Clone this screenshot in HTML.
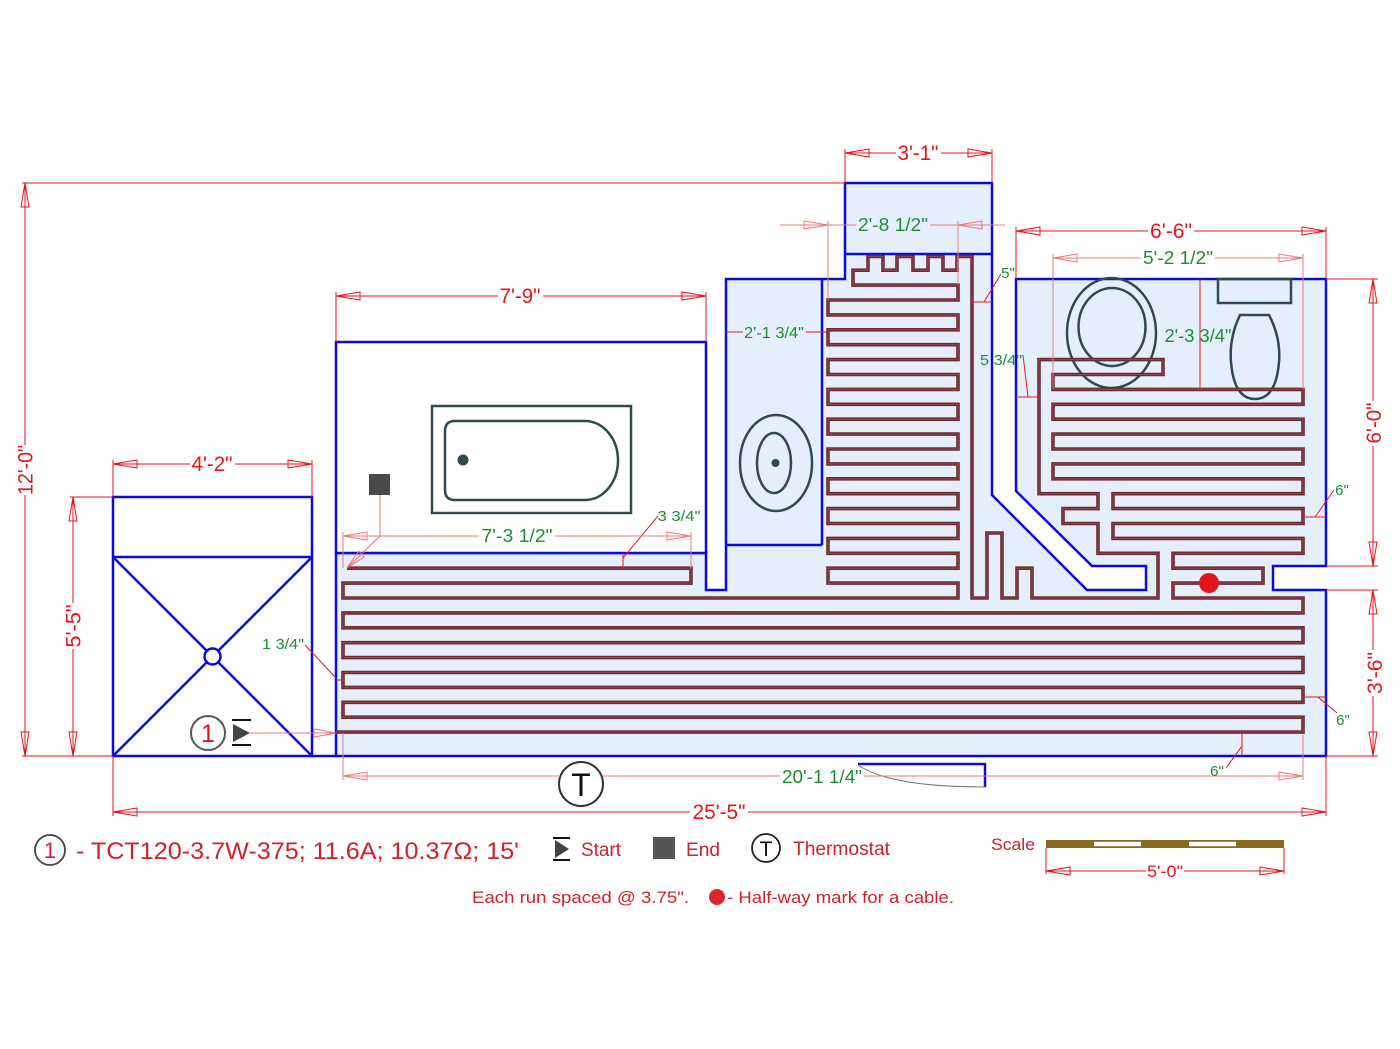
<!DOCTYPE html>
<html><head><meta charset="utf-8"><style>
html,body{margin:0;padding:0;background:#fff;}
svg{display:block;}
text{font-family:"Liberation Sans",Arial,sans-serif;}
</style></head><body>
<svg width="1400" height="1049" viewBox="0 0 1400 1049" xmlns="http://www.w3.org/2000/svg">
<rect width="1400" height="1049" fill="#fff"/>

<!-- heated floor area -->
<polygon points="336,553 706,553 706,590 726,590 726,279 845,279 845,183 992,183 992,495 1087,590 1146,590 1146,566 1092,566 1016,491 1016,279 1326,279 1326,566 1273,566 1273,590 1326,590 1326,756 336,756" fill="#e5effb" stroke="#0a0ae6" stroke-width="2.5" stroke-linejoin="miter"/>
<!-- bath room -->
<rect x="336" y="342" width="370" height="211" fill="#fff" stroke="#0a0ae6" stroke-width="2.5"/>
<!-- shower -->
<rect x="113" y="497" width="199" height="259" fill="#fff" stroke="#0a0ae6" stroke-width="2.5"/>
<g stroke="#0a0ae6" stroke-width="2.5" fill="none">
<line x1="113" y1="557" x2="312" y2="557"/>
<line x1="113" y1="557" x2="312" y2="756"/>
<line x1="312" y1="557" x2="113" y2="756"/>
<line x1="312" y1="756" x2="336" y2="756"/>
<line x1="822" y1="279" x2="822" y2="545"/>
<line x1="726" y1="545" x2="822" y2="545"/>
<line x1="845" y1="254" x2="992" y2="254"/>
<polyline points="858,764 985,764 985,787"/>
</g>
<circle cx="212.5" cy="656.5" r="8" fill="#fff" stroke="#0a0ae6" stroke-width="2.5"/>
<path d="M858,765 Q890,787 985,787" fill="none" stroke="#777" stroke-width="1"/>

<!-- fixtures -->
<g fill="none" stroke="#2e4a4c" stroke-width="2.5">
<rect x="432" y="406" width="199" height="107"/>
<path d="M455,421 H585 A33,39.5 0 0 1 585,500 H455 Q445,500 445,490 V431 Q445,421 455,421 Z"/>
<ellipse cx="776" cy="463" rx="36" ry="48"/>
<ellipse cx="774" cy="463" rx="17" ry="30"/>
<ellipse cx="1111.5" cy="333" rx="44.5" ry="55"/>
<ellipse cx="1112" cy="327" rx="33.5" ry="39"/>
<rect x="1218" y="279" width="73" height="24"/>
<path d="M1240,315 L1269,315 Q1281,338 1279,362 Q1276,399 1255,399 Q1234,399 1231,362 Q1229,338 1240,315 Z"/>
</g>
<circle cx="463" cy="460" r="5.5" fill="#2e4a4c"/>
<circle cx="775.5" cy="463" r="4" fill="#2e4a4c"/>

<!-- cable -->
<path id="cable" d="M336,732.1 H1303 V717.2 H343 V702.3 H1303 V687.4 H343 V672.5 H1303 V657.6 H343 V642.7 H1303 V627.8 H343 V612.9 H1303 V598 H1173 V583.1 H1263 V568.2 H1173 V553.3 H1303 V538.4 H1113 V523.5 H1303 V508.6 H1113 V493.7 H1303 V478.8 H1053 V463.9 H1303 V449 H1053 V434.1 H1303 V419.2 H1053 V404.3 H1303 V389.4 H1053 V374.5 H1163 V359.6 H1039 V493.7 H1098 V508.6 H1063 V523.5 H1098 V553.3 H1158 V598 H1032 V568.2 H1017 V598 H1002 V533 H987 V598 H972 V256.5 H957 V270.2 H943 V256.5 H928 V270.2 H913 V256.5 H897 V270.2 H883 V256.5 H868 V270.2 H853 V285.1 H958 V300 H828 V314.9 H958 V329.8 H828 V344.7 H958 V359.6 H828 V374.5 H958 V389.4 H828 V404.3 H958 V419.2 H828 V434.1 H958 V449 H828 V463.9 H958 V478.8 H828 V493.7 H958 V508.6 H828 V523.5 H958 V538.4 H828 V553.3 H958 V568.2 H828 V583.1 H958 V598 H343 V583.1 H691 V568.2 H347" fill="none" stroke="#6a2a30" stroke-width="3.6" stroke-linejoin="miter"/>
<path d="M336,732.1 H1303 V717.2 H343 V702.3 H1303 V687.4 H343 V672.5 H1303 V657.6 H343 V642.7 H1303 V627.8 H343 V612.9 H1303 V598 H1173 V583.1 H1263 V568.2 H1173 V553.3 H1303 V538.4 H1113 V523.5 H1303 V508.6 H1113 V493.7 H1303 V478.8 H1053 V463.9 H1303 V449 H1053 V434.1 H1303 V419.2 H1053 V404.3 H1303 V389.4 H1053 V374.5 H1163 V359.6 H1039 V493.7 H1098 V508.6 H1063 V523.5 H1098 V553.3 H1158 V598 H1032 V568.2 H1017 V598 H1002 V533 H987 V598 H972 V256.5 H957 V270.2 H943 V256.5 H928 V270.2 H913 V256.5 H897 V270.2 H883 V256.5 H868 V270.2 H853 V285.1 H958 V300 H828 V314.9 H958 V329.8 H828 V344.7 H958 V359.6 H828 V374.5 H958 V389.4 H828 V404.3 H958 V419.2 H828 V434.1 H958 V449 H828 V463.9 H958 V478.8 H828 V493.7 H958 V508.6 H828 V523.5 H958 V538.4 H828 V553.3 H958 V568.2 H828 V583.1 H958 V598 H343 V583.1 H691 V568.2 H347" fill="none" stroke="#93434b" stroke-width="1.1" stroke-linejoin="miter"/>
<circle cx="1209" cy="583" r="10" fill="#e0141c"/>

<!-- start / end markers -->
<rect x="369" y="474" width="21" height="21" fill="#4a4a4a"/>
<g stroke="#f07070" stroke-width="1" fill="none">
<polyline points="380,495 380,536 347,568"/>
<polygon points="347,568 364.2,557 358.6,551.2"/>
<line x1="250" y1="733" x2="336" y2="733"/>
<polygon points="336,733 314,729 314,737"/>
</g>
<circle cx="208" cy="733" r="17" fill="#fff" stroke="#555" stroke-width="2"/>
<text x="208" y="742" font-size="25" fill="#e0141c" text-anchor="middle">1</text>
<polygon points="233,724 250,733 233,742" fill="#444"/>
<line x1="232" y1="720" x2="251" y2="720" stroke="#111" stroke-width="2"/>
<line x1="232" y1="745" x2="251" y2="745" stroke="#111" stroke-width="2"/>

<!-- thermostat -->
<circle cx="581" cy="784" r="22" fill="#fff" stroke="#333" stroke-width="2"/>
<text x="581" y="796" font-size="32" fill="#111" text-anchor="middle">T</text>

<!-- RED DIMENSIONS -->
<g stroke="#e8141c" stroke-width="1" fill="none">
<!-- 12'-0" -->
<line x1="25" y1="183" x2="25" y2="445"/><line x1="25" y1="495" x2="25" y2="756"/>
<polygon points="25,183 21,207 29,207"/><polygon points="25,756 21,732 29,732"/>
<line x1="22" y1="183" x2="845" y2="183"/><line x1="22" y1="756" x2="113" y2="756"/>
<!-- 5'-5" -->
<line x1="73" y1="497" x2="73" y2="603"/><line x1="73" y1="649" x2="73" y2="756"/>
<polygon points="73,497 69,521 77,521"/><polygon points="73,756 69,732 77,732"/>
<line x1="70" y1="497" x2="113" y2="497"/>
<!-- 4'-2" -->
<line x1="113" y1="464" x2="190" y2="464"/><line x1="235" y1="464" x2="312" y2="464"/>
<polygon points="113,464 137,460 137,468"/><polygon points="312,464 288,460 288,468"/>
<line x1="113" y1="460" x2="113" y2="497"/><line x1="312" y1="460" x2="312" y2="497"/>
<!-- 7'-9" -->
<line x1="336" y1="296" x2="498" y2="296"/><line x1="543" y1="296" x2="706" y2="296"/>
<polygon points="336,296 360,292 360,300"/><polygon points="706,296 682,292 682,300"/>
<line x1="336" y1="292" x2="336" y2="342"/><line x1="706" y1="292" x2="706" y2="342"/>
<!-- 3'-1" -->
<line x1="845" y1="153" x2="896" y2="153"/><line x1="941" y1="153" x2="992" y2="153"/>
<polygon points="845,153 869,149 869,157"/><polygon points="992,153 968,149 968,157"/>
<line x1="845" y1="149" x2="845" y2="183"/><line x1="992" y1="149" x2="992" y2="183"/>
<!-- 6'-6" -->
<line x1="1016" y1="231" x2="1148" y2="231"/><line x1="1194" y1="231" x2="1326" y2="231"/>
<polygon points="1016,231 1040,227 1040,235"/><polygon points="1326,231 1302,227 1302,235"/>
<line x1="1016" y1="227" x2="1016" y2="279"/><line x1="1326" y1="227" x2="1326" y2="279"/>
<!-- 6'-0" -->
<line x1="1373" y1="279" x2="1373" y2="401"/><line x1="1373" y1="446" x2="1373" y2="566"/>
<polygon points="1373,279 1369,303 1377,303"/><polygon points="1373,566 1369,542 1377,542"/>
<line x1="1326" y1="279" x2="1378" y2="279"/><line x1="1326" y1="566" x2="1378" y2="566"/>
<!-- 3'-6" -->
<line x1="1373" y1="590" x2="1373" y2="650"/><line x1="1373" y1="696" x2="1373" y2="756"/>
<polygon points="1373,590 1369,614 1377,614"/><polygon points="1373,756 1369,732 1377,732"/>
<line x1="1326" y1="590" x2="1378" y2="590"/><line x1="1326" y1="756" x2="1378" y2="756"/>
<!-- 25'-5" -->
<line x1="113" y1="812" x2="690" y2="812"/><line x1="748" y1="812" x2="1326" y2="812"/>
<polygon points="113,812 137,808 137,816"/><polygon points="1326,812 1302,808 1302,816"/>
<line x1="113" y1="756" x2="113" y2="816"/><line x1="1326" y1="756" x2="1326" y2="816"/>
<!-- scale 5'-0" -->
<line x1="1046" y1="871" x2="1146" y2="871"/><line x1="1184" y1="871" x2="1284" y2="871"/>
<polygon points="1046,871 1070,867 1070,875"/><polygon points="1284,871 1260,867 1260,875"/>
<line x1="1046" y1="848" x2="1046" y2="874"/><line x1="1284" y1="848" x2="1284" y2="874"/>
<!-- 2'-3 3/4" vertical -->
<line x1="1200" y1="279" x2="1200" y2="389"/>
<!-- 2'-1 3/4" -->
<line x1="726" y1="332" x2="743" y2="332"/><line x1="806" y1="332" x2="828" y2="332"/>
<!-- small leaders -->
<polyline points="1001,274 984,302"/><line x1="972" y1="302" x2="992" y2="302"/>
<polyline points="1023,355 1028,397"/><line x1="1016" y1="397" x2="1039" y2="397"/>
<polyline points="658,516 623,558"/><line x1="623" y1="553" x2="623" y2="568"/>
<polyline points="305,645 336,678"/><line x1="336" y1="680" x2="343" y2="680"/>
<polyline points="1334,490 1315,517"/><line x1="1303" y1="517" x2="1326" y2="517"/>
<polyline points="1337,713 1318,697"/><line x1="1303" y1="697" x2="1326" y2="697"/>
<polyline points="1226,768 1242,746"/><line x1="1242" y1="733" x2="1242" y2="756"/>
</g>

<!-- light red (green-labelled) dims -->
<g stroke="#f07a7a" stroke-width="1" fill="none">
<!-- 7'-3 1/2" -->
<line x1="343" y1="536" x2="479" y2="536"/><line x1="555" y1="536" x2="691" y2="536"/>
<polygon points="343,536 367,532 367,540"/><polygon points="691,536 667,532 667,540"/>
<line x1="343" y1="532" x2="343" y2="568"/><line x1="691" y1="532" x2="691" y2="568"/>
<!-- 2'-8 1/2" -->
<line x1="780" y1="225" x2="856" y2="225"/><line x1="930" y1="225" x2="1005" y2="225"/>
<polygon points="828,225 804,221 804,229"/><polygon points="958,225 982,221 982,229"/>
<line x1="828" y1="221" x2="828" y2="300"/><line x1="958" y1="221" x2="958" y2="285"/>
<!-- 5'-2 1/2" -->
<line x1="1053" y1="258" x2="1141" y2="258"/><line x1="1215" y1="258" x2="1303" y2="258"/>
<polygon points="1053,258 1077,254 1077,262"/><polygon points="1303,258 1279,254 1279,262"/>
<line x1="1053" y1="254" x2="1053" y2="389"/><line x1="1303" y1="254" x2="1303" y2="389"/>
<!-- 20'-1 1/4" -->
<line x1="343" y1="776" x2="560" y2="776"/><line x1="603" y1="776" x2="780" y2="776"/><line x1="864" y1="776" x2="1303" y2="776"/>
<polygon points="343,776 367,772 367,780"/><polygon points="1303,776 1279,772 1279,780"/>
<line x1="343" y1="733" x2="343" y2="780"/><line x1="1303" y1="735" x2="1303" y2="780"/>
</g>

<!-- red dimension text -->
<g fill="#e8141c" font-size="21" text-anchor="middle">
<text transform="translate(32.5,470) rotate(-90)" textLength="50" lengthAdjust="spacingAndGlyphs">12'-0"</text>
<text transform="translate(80.5,626) rotate(-90)" textLength="43" lengthAdjust="spacingAndGlyphs">5'-5"</text>
<text transform="translate(1381,423) rotate(-90)" textLength="41" lengthAdjust="spacingAndGlyphs">6'-0"</text>
<text transform="translate(1382,673) rotate(-90)" textLength="42" lengthAdjust="spacingAndGlyphs">3'-6"</text>
<text x="212" y="471" textLength="41" lengthAdjust="spacingAndGlyphs">4'-2"</text>
<text x="520" y="303" textLength="41" lengthAdjust="spacingAndGlyphs">7'-9"</text>
<text x="918" y="160" textLength="41" lengthAdjust="spacingAndGlyphs">3'-1"</text>
<text x="1171" y="238" textLength="42" lengthAdjust="spacingAndGlyphs">6'-6"</text>
<text x="719" y="819" textLength="53" lengthAdjust="spacingAndGlyphs">25'-5"</text>
<text x="1165" y="877" font-size="17" textLength="36" lengthAdjust="spacingAndGlyphs">5'-0"</text>
</g>

<!-- green dimension text -->
<g fill="#1e8c32" text-anchor="middle">
<text x="893" y="231" font-size="18" textLength="70" lengthAdjust="spacingAndGlyphs">2'-8 1/2"</text>
<text x="1178" y="264" font-size="18" textLength="70" lengthAdjust="spacingAndGlyphs">5'-2 1/2"</text>
<text x="517" y="542" font-size="18" textLength="71" lengthAdjust="spacingAndGlyphs">7'-3 1/2"</text>
<text x="822" y="783" font-size="18" textLength="80" lengthAdjust="spacingAndGlyphs">20'-1 1/4"</text>
<text x="774" y="338" font-size="16" textLength="60" lengthAdjust="spacingAndGlyphs">2'-1 3/4"</text>
<text x="1198" y="342" font-size="18" textLength="67" lengthAdjust="spacingAndGlyphs">2'-3 3/4"</text>
<text x="1001" y="365" font-size="15" textLength="42" lengthAdjust="spacingAndGlyphs">5 3/4"</text>
<text x="679" y="521" font-size="15" textLength="43" lengthAdjust="spacingAndGlyphs">3 3/4"</text>
<text x="283" y="649" font-size="15" textLength="42" lengthAdjust="spacingAndGlyphs">1 3/4"</text>
<text x="1008" y="278" font-size="15">5"</text>
<text x="1342" y="495" font-size="15">6"</text>
<text x="1343" y="725" font-size="15">6"</text>
<text x="1217" y="776" font-size="15">6"</text>
</g>

<!-- scale bar -->
<text x="991" y="850" font-size="17" fill="#d0202a" textLength="44" lengthAdjust="spacingAndGlyphs">Scale</text>
<rect x="1046" y="840" width="238" height="8" fill="#8a6a1e"/>
<rect x="1094" y="841.8" width="47" height="4.4" fill="#fff"/>
<rect x="1189" y="841.8" width="47" height="4.4" fill="#fff"/>

<!-- legend -->
<circle cx="50" cy="850" r="15" fill="#fff" stroke="#444" stroke-width="1.8"/>
<text x="50" y="858" font-size="22" fill="#d0202a" text-anchor="middle">1</text>
<text x="76" y="859" font-size="24" fill="#d0202a" textLength="443" lengthAdjust="spacingAndGlyphs">- TCT120-3.7W-375; 11.6A; 10.37Ω; 15'</text>
<polygon points="555,840 569,849 555,858" fill="#444"/>
<line x1="553" y1="838" x2="570" y2="838" stroke="#111" stroke-width="2"/>
<line x1="553" y1="860" x2="570" y2="860" stroke="#111" stroke-width="2"/>
<text x="581" y="856" font-size="19" fill="#d0202a" textLength="40" lengthAdjust="spacingAndGlyphs">Start</text>
<rect x="653" y="837" width="22" height="22" fill="#555"/>
<text x="686" y="856" font-size="19" fill="#d0202a" textLength="34" lengthAdjust="spacingAndGlyphs">End</text>
<circle cx="766" cy="848" r="14" fill="#fff" stroke="#222" stroke-width="1.8"/>
<text x="766" y="856" font-size="21" fill="#111" text-anchor="middle">T</text>
<text x="793" y="855" font-size="19" fill="#d0202a" textLength="97" lengthAdjust="spacingAndGlyphs">Thermostat</text>
<text x="472" y="903" font-size="17" fill="#d0202a" textLength="217" lengthAdjust="spacingAndGlyphs">Each run spaced @ 3.75".</text>
<circle cx="717" cy="897" r="8" fill="#d9262c"/>
<text x="727" y="903" font-size="17" fill="#d0202a" textLength="227" lengthAdjust="spacingAndGlyphs">- Half-way mark for a cable.</text>
</svg>
</body></html>
